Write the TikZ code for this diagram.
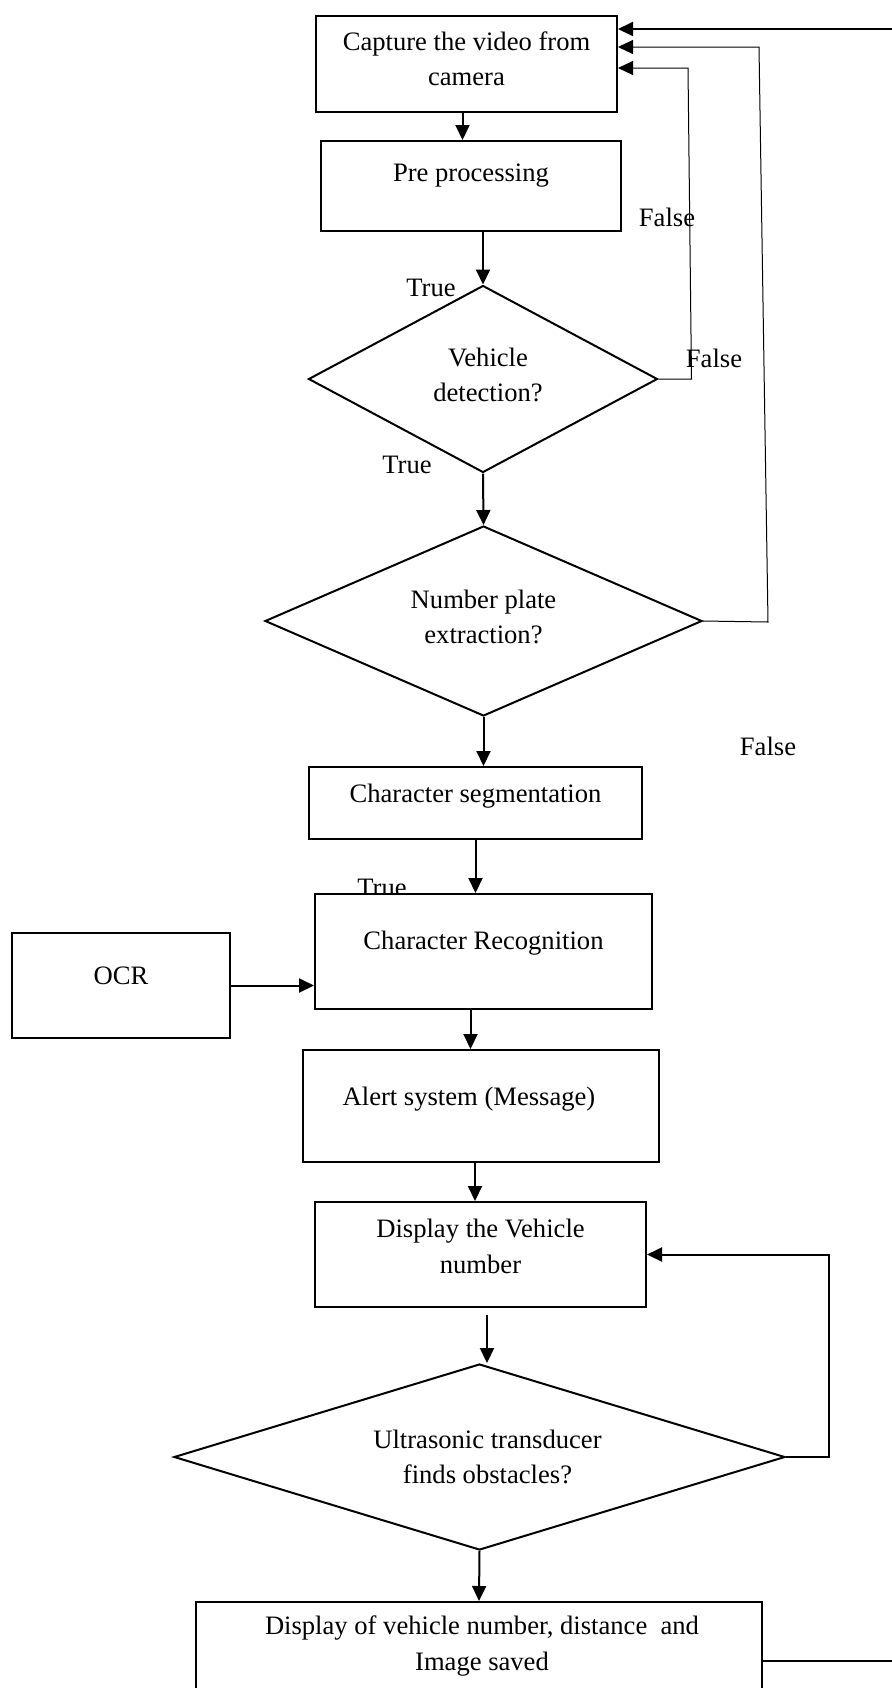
\documentclass[tikz,border=0pt]{standalone}
\usepackage{fontspec}
\setmainfont{Liberation Serif}
\usetikzlibrary{shapes,arrows.meta}

\tikzset{
  box/.style={shape=rectangle,draw=black,fill=white,line width=1pt,inner sep=0pt},
  dmd/.style={shape=diamond,draw=black,fill=white,line width=1pt,inner sep=0pt},
  lbl/.style={align=center,inner sep=0pt},
  arr/.style={-{Triangle[length=7.5pt,width=7pt]},draw=black,line width=1pt},
  fb/.style={line width=0.5pt},
}

\begin{document}
\begin{tikzpicture}[x=0.5pt,y=-0.5pt,font=\fontsize{13.3pt}{17.7pt}\selectfont]
\useasboundingbox (0,0) rectangle (892,1688);
\clip (0,0) rectangle (892,1688);

\node[box,minimum width=150.5pt,minimum height=48pt,label={[lbl,yshift=2.5pt]center:{Capture the video from\\camera}}] (cap) at (466.5,64) {};
\node[box,minimum width=150pt,minimum height=45pt,label={[lbl,yshift=5pt]center:Pre processing}] (pre) at (471,186) {};
\node[dmd,minimum width=174.5pt,minimum height=93.5pt,label={[lbl,xshift=2.5pt,yshift=2pt]center:{Vehicle\\detection?}}] (veh) at (483,379) {};
\node[dmd,minimum width=218.5pt,minimum height=95pt,label={[lbl,yshift=2pt]center:{Number plate\\extraction?}}] (npe) at (483.5,621) {};
\node[box,minimum width=166.5pt,minimum height=36pt,label={[lbl,yshift=3.5pt]center:Character segmentation}] (seg) at (475.5,803) {};
\node (tru3) at (382,888) {True};
\node[box,minimum width=168.5pt,minimum height=57.5pt,label={[lbl,yshift=4pt]center:Character Recognition}] (rec) at (483.5,951.5) {};
\node[box,minimum width=109pt,minimum height=52.5pt,label={[lbl,yshift=4.75pt]center:OCR}] (ocr) at (121,985.5) {};
\node[box,minimum width=178pt,minimum height=56pt,label={[lbl,xshift=-6pt,yshift=3.5pt]center:Alert system (Message)}] (alr) at (481,1106) {};
\node[box,minimum width=165.5pt,minimum height=52.5pt,label={[lbl,yshift=4pt]center:{Display the Vehicle\\number}}] (dsp) at (480.5,1254.5) {};
\node[dmd,minimum width=305.5pt,minimum height=93pt,label={[lbl,xshift=4pt]center:{Ultrasonic transducer\\finds obstacles?}}] (obs) at (479.5,1457) {};
\node[box,minimum width=283pt,minimum height=59pt,label={[lbl,xshift=1.5pt,yshift=7.5pt]center:{Display of vehicle number, distance\ \ and\\Image saved}}] (fin) at (479,1661) {};

\node (tru1) at (431,288) {True};
\node (tru2) at (407,465) {True};
\node (fls1) at (667,217) {False};
\node (fls2) at (714,358) {False};
\node (fls3) at (768,746) {False};

% main flow
\draw[arr] ([xshift=-2pt]cap.south) -- ([xshift=-2pt]cap.south |- pre.north);
\draw[arr] (veh.north |- pre.south) -- (veh.north);
\draw[arr] (veh.south) -- (npe.north);
\draw[arr] (npe.south) -- (npe.south |- seg.north);
\draw[arr] (seg.south) -- (seg.south |- rec.north);
\draw[arr] (ocr.east) -- (rec.west |- ocr.east);
\draw[arr] ([xshift=-6.5pt]rec.south) -- ([xshift=-6.5pt]rec.south |- alr.north);
\draw[arr] ([xshift=-3pt]alr.south) -- ([xshift=-3pt]alr.south |- dsp.north);
\draw[arr] ([xshift=3.25pt,yshift=-3.5pt]dsp.south) -- ([xshift=3.25pt]dsp.south |- obs.north);
\draw[arr] (obs.south) -- (fin.north);

% loops back
\draw[arr] (obs.east) -- ++(43,0) |- (dsp.east);
\draw[arr,fb] (veh.east) -- ++(33,0) -- (688,68) -- ([yshift=-2pt]cap.east);
\draw[arr,fb] (npe.east) -- ++(65,1) -- (759,47) -- ([yshift=8.5pt]cap.east);
\coordinate (edgeT) at (892,29);
\coordinate (edgeB) at (892,1661);
\draw[arr] (edgeT) -- ([yshift=17.5pt]cap.east);
\draw[line width=1pt] (fin.east) -- (edgeB);
\end{tikzpicture}
\end{document}
